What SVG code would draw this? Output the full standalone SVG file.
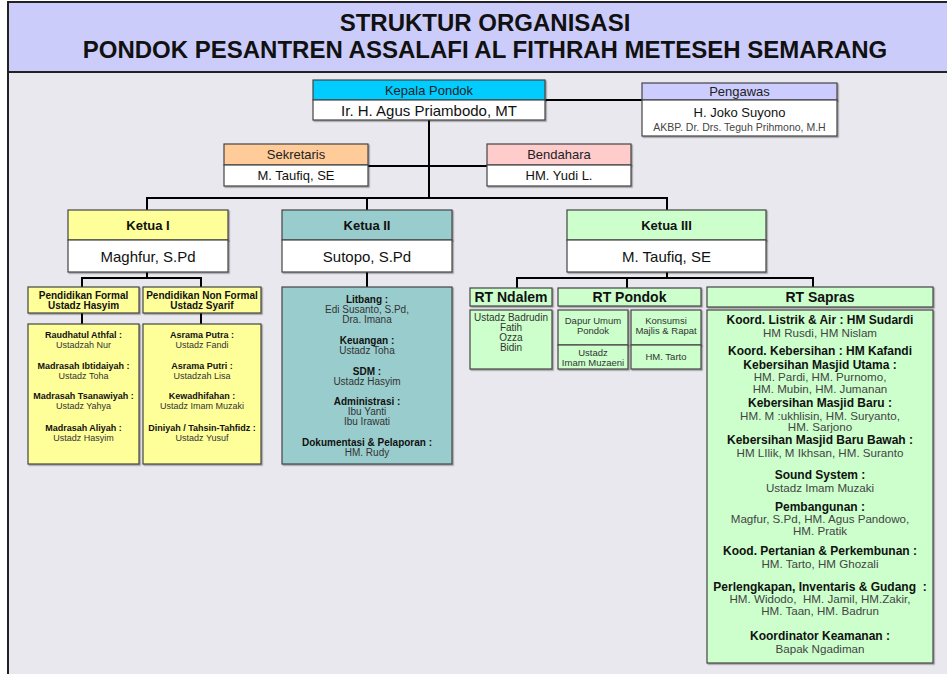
<svg xmlns="http://www.w3.org/2000/svg" width="947" height="674" viewBox="0 0 947 674">
<defs>
<filter id="sh" x="-10%" y="-10%" width="130%" height="130%">
<feDropShadow dx="1.2" dy="1.2" stdDeviation="0.7" flood-color="#000" flood-opacity="0.35"/>
</filter>
<style>
.bx{stroke:#444;stroke-width:1.2;filter:url(#sh)}
.w{fill:#ffffff}
.t{font-family:"Liberation Sans",Arial,sans-serif;text-anchor:middle;dominant-baseline:central}
.b{font-weight:bold;fill:#111}
.r{fill:#333}
.ln{stroke:#000;stroke-width:2;fill:none}
.s9{font-size:9px}
.s95{font-size:9.5px}
.s10{font-size:10px}
.s12{font-size:12px}
.s11{font-size:11.6px;fill:#444}
.s13{font-size:13px}
.s14{font-size:14px}
.s15{font-size:15px}
.yl{fill:#ffff99}
.tl{fill:#99cccc}
.gr{fill:#ccffcc}
</style>
</defs>
<rect x="0" y="0" width="947" height="674" fill="#ffffff"/>
<rect x="8" y="2" width="960" height="700" fill="#e8e8ee" stroke="#222" stroke-width="2"/>
<rect x="8" y="2" width="960" height="70" fill="#ccccfa" stroke="#222" stroke-width="2"/>
<text class="t" x="485" y="22" font-size="24" font-weight="bold" fill="#111">STRUKTUR ORGANISASI</text>
<text class="t" x="485" y="49" font-size="24" font-weight="bold" fill="#111">PONDOK PESANTREN ASSALAFI AL FITHRAH METESEH SEMARANG</text>

<g id="connectors">
<path class="ln" d="M545,100 H642"/>
<path class="ln" d="M429,120 V198"/>
<path class="ln" d="M368,166 H487"/>
<path class="ln" d="M147,210 V198 H667 V210 M367,198 V210"/>
<path class="ln" d="M147,272 V278 M82,287 V278 H201 V287 M82,313 V324 M201,313 V324"/>
<path class="ln" d="M367,272 V287"/>
<path class="ln" d="M667,272 V278 M517,288 V278 H813 V287 M627,278 V288"/>
</g>

<g id="kepala">
<rect class="bx" x="313" y="80" width="232" height="20" fill="#00ccff"/>
<rect class="bx w" x="313" y="100" width="232" height="20"/>
<text class="t s13" x="429" y="90" fill="#222">Kepala Pondok</text>
<text class="t s15" x="429" y="110.5" fill="#111">Ir. H. Agus Priambodo, MT</text>
</g>

<g id="pengawas">
<rect class="bx" x="642" y="83" width="195" height="17" fill="#ccccff"/>
<rect class="bx w" x="642" y="100" width="195" height="36"/>
<text class="t s13" x="739.5" y="91.5" fill="#222">Pengawas</text>
<text class="t s13" x="739.5" y="112" fill="#111">H. Joko Suyono</text>
<text class="t" x="739.5" y="127" font-size="10.5" fill="#444">AKBP. Dr. Drs. Teguh Prihmono, M.H</text>
</g>

<g id="sekretaris">
<rect class="bx" x="224" y="144" width="144" height="21" fill="#ffcc99"/>
<rect class="bx w" x="224" y="165" width="144" height="21"/>
<text class="t s13" x="296" y="154.5" fill="#222">Sekretaris</text>
<text class="t s13" x="296" y="175.5" fill="#111">M. Taufiq, SE</text>
</g>

<g id="bendahara">
<rect class="bx" x="487" y="144" width="144" height="21" fill="#ffcccc"/>
<rect class="bx w" x="487" y="165" width="144" height="21"/>
<text class="t s13" x="559" y="154.5" fill="#222">Bendahara</text>
<text class="t s13" x="559" y="175.5" fill="#111">HM. Yudi L.</text>
</g>

<g id="ketua1">
<rect class="bx yl" x="68" y="210" width="160" height="30"/>
<rect class="bx w" x="68" y="240" width="160" height="32"/>
<text class="t s13 b" x="148" y="225">Ketua I</text>
<text class="t s15" x="148" y="256" fill="#111">Maghfur, S.Pd</text>
</g>

<g id="ketua2">
<rect class="bx tl" x="282" y="210" width="170" height="30"/>
<rect class="bx w" x="282" y="240" width="170" height="32"/>
<text class="t s13 b" x="367" y="225">Ketua II</text>
<text class="t s15" x="367" y="256" fill="#111">Sutopo, S.Pd</text>
</g>

<g id="ketua3">
<rect class="bx gr" x="567" y="210" width="199" height="30"/>
<rect class="bx w" x="567" y="240" width="199" height="32"/>
<text class="t s13 b" x="666.5" y="225">Ketua III</text>
<text class="t s15" x="666.5" y="256" fill="#111">M. Taufiq, SE</text>
</g>

<g id="pend-formal">
<rect class="bx yl" x="28" y="287" width="111" height="26"/>
<text class="t s10 b" x="83.5" y="295">Pendidikan Formal</text>
<text class="t s10 b" x="83.5" y="305">Ustadz Hasyim</text>
</g>

<g id="pend-nonformal">
<rect class="bx yl" x="143" y="287" width="118" height="26"/>
<text class="t s10 b" x="202" y="295">Pendidikan Non Formal</text>
<text class="t s10 b" x="202" y="305">Ustadz Syarif</text>
</g>

<g id="formal-units">
<rect class="bx yl" x="28" y="324" width="111" height="140"/>
<text class="t s9 b" x="83.5" y="335">Raudhatul Athfal :</text>
<text class="t s9 r" x="83.5" y="345">Ustadzah Nur</text>
<text class="t s9 b" x="83.5" y="365.7">Madrasah Ibtidaiyah :</text>
<text class="t s9 r" x="83.5" y="375.7">Ustadz Toha</text>
<text class="t s9 b" x="83.5" y="396">Madrasah Tsanawiyah :</text>
<text class="t s9 r" x="83.5" y="406">Ustadz Yahya</text>
<text class="t s9 b" x="83.5" y="427.7">Madrasah Aliyah :</text>
<text class="t s9 r" x="83.5" y="437.7">Ustadz Hasyim</text>
</g>

<g id="nonformal-units">
<rect class="bx yl" x="143" y="324" width="118" height="140"/>
<text class="t s9 b" x="202" y="335">Asrama Putra :</text>
<text class="t s9 r" x="202" y="345">Ustadz Fandi</text>
<text class="t s9 b" x="202" y="365.7">Asrama Putri :</text>
<text class="t s9 r" x="202" y="375.7">Ustadzah Lisa</text>
<text class="t s9 b" x="202" y="396">Kewadhifahan :</text>
<text class="t s9 r" x="202" y="406">Ustadz Imam Muzaki</text>
<text class="t s9 b" x="202" y="427.7">Diniyah / Tahsin-Tahfidz :</text>
<text class="t s9 r" x="202" y="437.7">Ustadz Yusuf</text>
</g>

<g id="ketua2-units">
<rect class="bx tl" x="282" y="287" width="170" height="177"/>
<text class="t s10 b" x="367" y="299.3">Litbang :</text>
<text class="t s10 r" x="367" y="309.7">Edi Susanto, S.Pd,</text>
<text class="t s10 r" x="367" y="319.7">Dra. Imana</text>
<text class="t s10 b" x="367" y="340">Keuangan :</text>
<text class="t s10 r" x="367" y="350.3">Ustadz Toha</text>
<text class="t s10 b" x="367" y="371">SDM :</text>
<text class="t s10 r" x="367" y="381.3">Ustadz Hasyim</text>
<text class="t s10 b" x="367" y="401.7">Administrasi :</text>
<text class="t s10 r" x="367" y="411.7">Ibu Yanti</text>
<text class="t s10 r" x="367" y="421.7">Ibu Irawati</text>
<text class="t s10 b" x="367" y="442.7">Dokumentasi &amp; Pelaporan :</text>
<text class="t s10 r" x="367" y="452.7">HM. Rudy</text>
</g>

<g id="rt-ndalem">
<rect class="bx gr" x="470" y="288" width="82" height="18"/>
<rect class="bx gr" x="470" y="310" width="82" height="59"/>
<text class="t s14 b" x="511" y="297">RT Ndalem</text>
<text class="t s10 r" x="511" y="317.7">Ustadz Badrudin</text>
<text class="t s10 r" x="511" y="327.5">Fatih</text>
<text class="t s10 r" x="511" y="337.3">Ozza</text>
<text class="t s10 r" x="511" y="347.3">Bidin</text>
</g>

<g id="rt-pondok">
<rect class="bx gr" x="558" y="288" width="143" height="18"/>
<text class="t s14 b" x="629.5" y="297">RT Pondok</text>
</g>

<g id="dapur-umum">
<rect class="bx gr" x="558" y="310" width="70" height="35"/>
<text class="t s95 r" x="593" y="320">Dapur Umum</text>
<text class="t s95 r" x="593" y="330.7">Pondok</text>
</g>

<g id="dapur-petugas">
<rect class="bx gr" x="558" y="345" width="70" height="24"/>
<text class="t s95 r" x="593" y="352.5">Ustadz</text>
<text class="t s95 r" x="593" y="362.5">Imam Muzaeni</text>
</g>

<g id="konsumsi">
<rect class="bx gr" x="631" y="310" width="70" height="35"/>
<text class="t s95 r" x="666" y="320">Konsumsi</text>
<text class="t s95 r" x="666" y="330.7">Majlis &amp; Rapat</text>
</g>

<g id="konsumsi-petugas">
<rect class="bx gr" x="631" y="345" width="70" height="24"/>
<text class="t s95 r" x="666" y="356.7">HM. Tarto</text>
</g>

<g id="rt-sapras">
<rect class="bx gr" x="707" y="287" width="226" height="20"/>
<rect class="bx gr" x="707" y="310" width="226" height="353"/>
<text class="t s14 b" x="820" y="297">RT Sapras</text>
<text class="t s12 b" x="820" y="320">Koord. Listrik &amp; Air : HM Sudardi</text>
<text class="t s11" x="820" y="332">HM Rusdi, HM Nislam</text>
<text class="t s12 b" x="820" y="351">Koord. Kebersihan : HM Kafandi</text>
<text class="t s12 b" x="820" y="364.5">Kebersihan Masjid Utama :</text>
<text class="t s11" x="820" y="376.5">HM. Pardi, HM. Purnomo,</text>
<text class="t s11" x="820" y="388">HM. Mubin, HM. Jumanan</text>
<text class="t s12 b" x="820" y="403">Kebersihan Masjid Baru :</text>
<text class="t s11" x="820" y="415">HM. M :ukhlisin, HM. Suryanto,</text>
<text class="t s11" x="820" y="426.5">HM. Sarjono</text>
<text class="t s12 b" x="820" y="440">Kebersihan Masjid Baru Bawah :</text>
<text class="t s11" x="820" y="452">HM LIlik, M Ikhsan, HM. Suranto</text>
<text class="t s12 b" x="820" y="475">Sound System :</text>
<text class="t s11" x="820" y="487">Ustadz Imam Muzaki</text>
<text class="t s12 b" x="820" y="506.5">Pembangunan :</text>
<text class="t s11" x="820" y="518.5">Magfur, S.Pd, HM. Agus Pandowo,</text>
<text class="t s11" x="820" y="530">HM. Pratik</text>
<text class="t s12 b" x="820" y="551">Kood. Pertanian &amp; Perkembunan :</text>
<text class="t s11" x="820" y="563.5">HM. Tarto, HM Ghozali</text>
<text class="t s12 b" x="820" y="586.5" xml:space="preserve">Perlengkapan, Inventaris &amp; Gudang  :</text>
<text class="t s11" x="820" y="598.5" xml:space="preserve">HM. Widodo,  HM. Jamil, HM.Zakir,</text>
<text class="t s11" x="820" y="610">HM. Taan, HM. Badrun</text>
<text class="t s12 b" x="820" y="635.5">Koordinator Keamanan :</text>
<text class="t s11" x="820" y="648">Bapak Ngadiman</text>
</g>
</svg>
